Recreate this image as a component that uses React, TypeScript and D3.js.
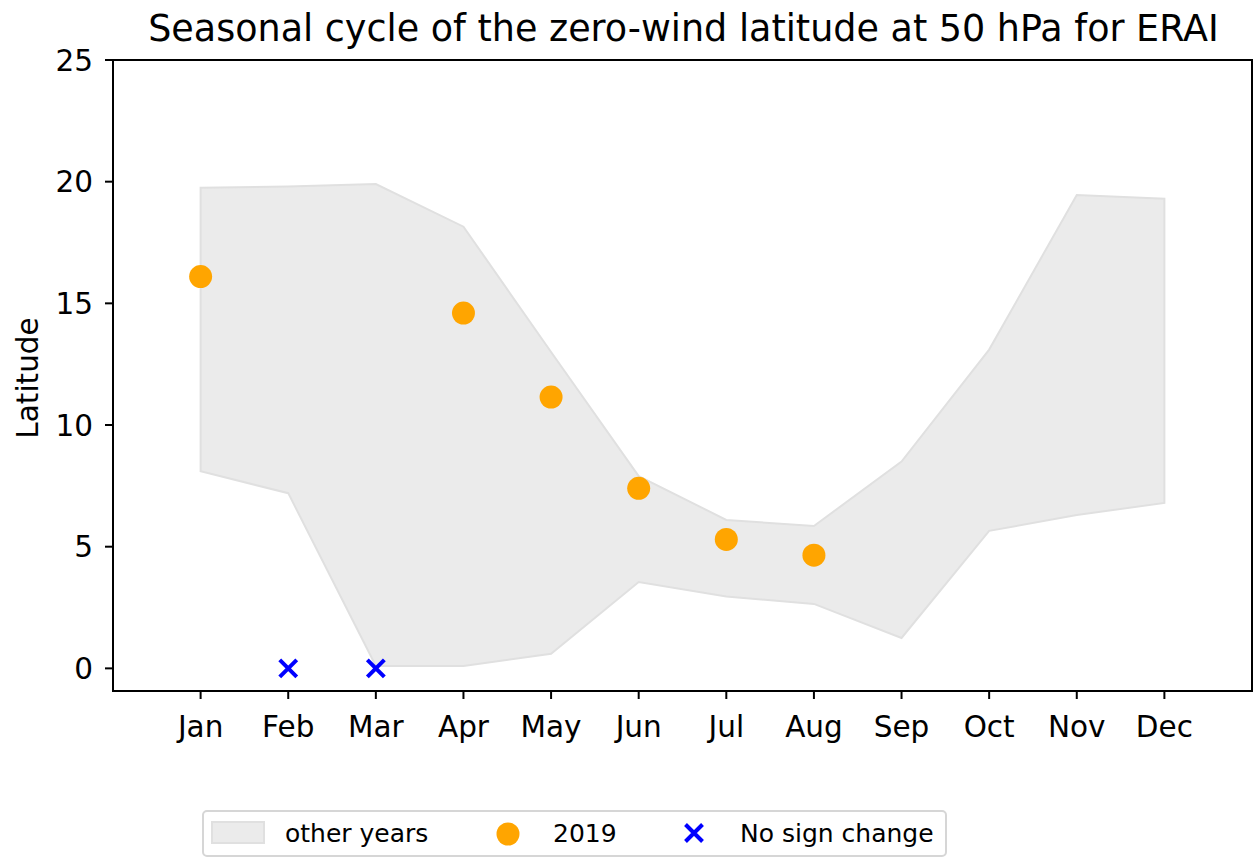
import * as d3 from "d3";

const months = ["Jan", "Feb", "Mar", "Apr", "May", "Jun", "Jul", "Aug", "Sep", "Oct", "Nov", "Dec"];
const bandUpper = [19.75, 19.8, 19.9, 18.15, 13.0, 7.9, 6.1, 5.85, 8.5, 13.1, 19.45, 19.3];
const bandLower = [8.1, 7.2, 0.1, 0.1, 0.6, 3.55, 2.95, 2.65, 1.25, 5.65, 6.3, 6.8];
const pointMonths = [1, 4, 5, 6, 7, 8];
const pointValues = [16.1, 14.6, 11.15, 7.4, 5.3, 4.65];
const noChangeMonths = [2, 3];
const yTicks = [0, 5, 10, 15, 20, 25];

const W = 1254;
const H = 857;
const left = 113;
const right = 1252;
const top = 60;
const bottom = 691;
const font = "DejaVu Sans, sans-serif";

export default function App() {
  const x = d3.scaleLinear().domain([0, 13]).range([left, right]);
  const y = d3.scaleLinear().domain([-0.93, 25]).range([bottom, top]);

  const band = d3
    .area<number>()
    .x((_, i) => x(i + 1))
    .y0((_, i) => y(bandLower[i]))
    .y1((d) => y(d));

  const cross = (cx: number, cy: number, s: number) =>
    `M${cx - s},${cy - s}L${cx + s},${cy + s}M${cx - s},${cy + s}L${cx + s},${cy - s}`;

  return (
    <svg width={W} height={H} style={{ position: "absolute", left: 0, top: 0, background: "#fff" }} fontFamily={font}>
      <text x={683.5} y={41} textAnchor="middle" fontSize={36.5}>
        Seasonal cycle of the zero-wind latitude at 50 hPa for ERAI
      </text>

      {/* band */}
      <path d={band(bandUpper) ?? ""} fill="#ebebeb" stroke="#e0e0e0" strokeWidth={2} />

      {/* 2019 points */}
      {pointMonths.map((m, i) => (
        <circle key={m} cx={x(m)} cy={y(pointValues[i])} r={11.5} fill="#ffa500" />
      ))}

      {/* no sign change */}
      {noChangeMonths.map((m) => (
        <path key={m} d={cross(x(m), y(0), 8.5)} stroke="#0000ff" strokeWidth={4} fill="none" />
      ))}

      {/* axes frame */}
      <rect x={left} y={top} width={right - left} height={bottom - top} fill="none" stroke="#000" strokeWidth={2} />

      {/* y axis */}
      {yTicks.map((t) => (
        <g key={t} transform={`translate(0,${y(t)})`}>
          <line x1={left - 8} x2={left} stroke="#000" strokeWidth={2} />
          <text x={left - 20} dy="0.36em" textAnchor="end" fontSize={29.5}>
            {t}
          </text>
        </g>
      ))}
      <text transform={`translate(38,378) rotate(-90)`} textAnchor="middle" fontSize={29.5}>
        Latitude
      </text>

      {/* x axis */}
      {months.map((m, i) => (
        <g key={m} transform={`translate(${x(i + 1)},${bottom})`}>
          <line y1={0} y2={8} stroke="#000" strokeWidth={2} />
          <text y={46} textAnchor="middle" fontSize={29.5}>
            {m}
          </text>
        </g>
      ))}

      {/* legend */}
      <g>
        <rect x={203} y={811} width={743} height={45} rx={4} fill="#fff" stroke="#d6d6d6" strokeWidth={2} />
        <rect x={212} y={822} width={52} height={21} fill="#ebebeb" stroke="#e0e0e0" strokeWidth={2} />
        <text x={285} y={842} fontSize={25}>other years</text>
        <circle cx={508} cy={834} r={11.5} fill="#ffa500" />
        <text x={553} y={842} fontSize={25}>2019</text>
        <path d={cross(694, 833, 8.5)} stroke="#0000ff" strokeWidth={4} fill="none" />
        <text x={740} y={842} fontSize={25}>No sign change</text>
      </g>
    </svg>
  );
}
